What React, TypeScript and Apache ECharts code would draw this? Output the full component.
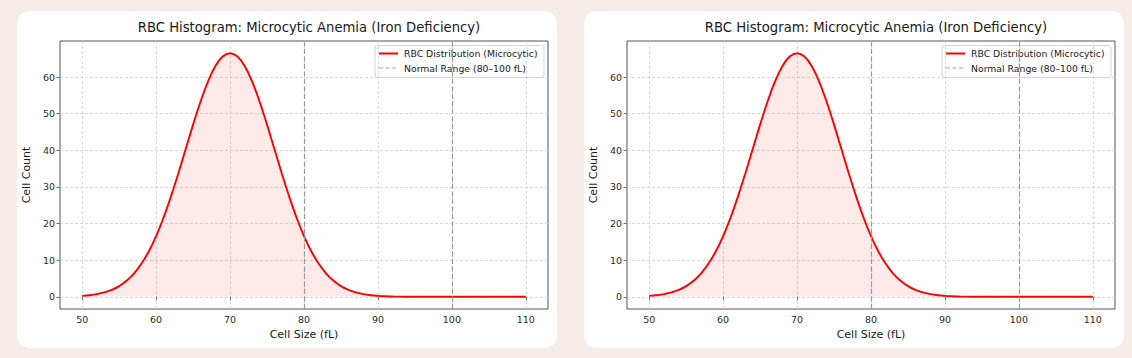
import React, { useEffect, useRef } from "react";
import * as echarts from "echarts";

const TITLE = "RBC Histogram: Microcytic Anemia (Iron Deficiency)";
const X_LABEL = "Cell Size (fL)";
const Y_LABEL = "Cell Count";
const SERIES_NAME = "RBC Distribution (Microcytic)";
const RANGE_NAME = "Normal Range (80–100 fL)";

const cellSizes = [
  50, 51, 52, 53, 54, 55, 56, 57, 58, 59,
  60, 61, 62, 63, 64, 65, 66, 67, 68, 69,
  70, 71, 72, 73, 74, 75, 76, 77, 78, 79,
  80, 81, 82, 83, 84, 85, 86, 87, 88, 89,
  90, 91, 92, 93, 94, 95, 96, 97, 98, 99,
  100, 101, 102, 103, 104, 105, 106, 107, 108, 109,
  110,
];

const cellCounts = [
  0.26, 0.44, 0.74, 1.2, 1.9, 2.92, 4.37, 6.36, 9.0, 12.38,
  16.59, 21.59, 27.34, 33.67, 40.33, 47.0, 53.25, 58.69, 62.91, 65.58,
  66.5, 65.58, 62.91, 58.69, 53.25, 47.0, 40.33, 33.67, 27.34, 21.59,
  16.59, 12.38, 9.0, 6.36, 4.37, 2.92, 1.9, 1.2, 0.74, 0.44,
  0.26, 0.15, 0.08, 0.04, 0.02, 0.01, 0, 0, 0, 0,
  0, 0, 0, 0, 0, 0, 0, 0, 0, 0,
  0,
];

const xTicks = [50, 60, 70, 80, 90, 100, 110];
const yTicks = [0, 10, 20, 30, 40, 50, 60];
const normalRange = [80, 100];

const FONT = "DejaVu Sans";
const CARD_W = 540;
const CARD_H = 337;

function buildOption(): any {
  const data = cellSizes.map((x, i) => [x, cellCounts[i]]);
  const gridLine = { show: true, lineStyle: { color: "#d0d0d0", width: 0.8, type: [3, 2] } };
  return {
    animation: false,
    backgroundColor: "transparent",
    title: {
      text: TITLE,
      left: 287,
      textAlign: "center",
      top: 5,
      textStyle: { fontFamily: FONT, fontSize: 13.2, fontWeight: "normal", color: "#1a1a1a" },
    },
    grid: {
      left: 43,
      right: 9,
      top: 30,
      bottom: 39,
      outerBoundsMode: "none",
      containLabel: false,
      show: true,
      borderColor: "#555",
      borderWidth: 1,
      backgroundColor: "transparent",
    },
    xAxis: {
      type: "value",
      min: 47,
      max: 113,
      name: X_LABEL,
      nameLocation: "middle",
      nameGap: 19,
      nameTextStyle: { fontFamily: FONT, fontSize: 11, color: "#1a1a1a" },
      axisLine: { show: false },
      axisTick: { show: true, length: 3.5, customValues: xTicks, lineStyle: { color: "#555", width: 0.8 } },
      axisLabel: { customValues: xTicks, fontFamily: FONT, fontSize: 9.5, color: "#2a2a2a", margin: 5 },
      splitLine: gridLine,
    },
    yAxis: {
      type: "value",
      min: -3.33,
      max: 69.83,
      name: Y_LABEL,
      nameLocation: "middle",
      nameGap: 21,
      nameTextStyle: { fontFamily: FONT, fontSize: 11, color: "#1a1a1a" },
      axisLine: { show: false },
      axisTick: { show: true, length: 3.5, customValues: yTicks, lineStyle: { color: "#555", width: 0.8 } },
      axisLabel: { customValues: yTicks, fontFamily: FONT, fontSize: 9.5, color: "#2a2a2a", margin: 5 },
      splitLine: gridLine,
    },
    series: [
      {
        name: SERIES_NAME,
        type: "line",
        data,
        showSymbol: false,
        symbol: "none",
        smooth: 0.4,
        lineStyle: { color: "#ff0000", width: 1.9 },
        areaStyle: { color: "rgba(255,0,0,0.12)", origin: 0 },
        z: 3,
        markLine: {
          silent: true,
          symbol: "none",
          label: { show: false },
          lineStyle: { color: "#9a9a9a", width: 1.2, type: [5, 2.5] },
          data: normalRange.map((v) => ({ xAxis: v })),
        },
      },
    ],
    graphic: [
      {
        type: "group",
        left: 357.5,
        top: 34,
        children: [
          {
            type: "rect",
            shape: { x: 0, y: 0, width: 169, height: 32, r: 2.5 },
            style: { fill: "rgba(255,255,255,0.85)", stroke: "#d6d6d6", lineWidth: 1 },
          },
          {
            type: "line",
            shape: { x1: 4, y1: 8, x2: 23, y2: 8 },
            style: { stroke: "#ff0000", lineWidth: 1.9 },
          },
          {
            type: "text",
            x: 29,
            y: 8,
            style: { text: SERIES_NAME, fontFamily: FONT, fontSize: 9.3, fill: "#1a1a1a", verticalAlign: "middle" },
          },
          {
            type: "line",
            shape: { x1: 4, y1: 22.5, x2: 23, y2: 22.5 },
            style: { stroke: "#aaaaaa", lineWidth: 1.2, lineDash: [4, 2.5] },
          },
          {
            type: "text",
            x: 29,
            y: 22.5,
            style: { text: RANGE_NAME, fontFamily: FONT, fontSize: 9.3, fill: "#1a1a1a", verticalAlign: "middle" },
          },
        ],
      },
    ],
  };
}

function Panel({ left }: { left: number }) {
  const ref = useRef<HTMLDivElement>(null);
  useEffect(() => {
    if (!ref.current) return;
    const chart = echarts.init(ref.current, undefined, { renderer: "svg" });
    chart.setOption(buildOption());
    return () => chart.dispose();
  }, []);
  return (
    <div
      style={{
        position: "absolute",
        left,
        top: 11,
        width: CARD_W,
        height: CARD_H,
        background: "#ffffff",
        borderRadius: 13,
        overflow: "hidden",
      }}
    >
      <div ref={ref} style={{ width: CARD_W, height: CARD_H }} />
    </div>
  );
}

export default function App() {
  return (
    <div
      style={{
        position: "fixed",
        left: 0,
        top: 0,
        width: 1132,
        height: 358,
        background: "#f7ede8",
        overflow: "hidden",
      }}
    >
      <Panel left={17} />
      <Panel left={584} />
    </div>
  );
}
